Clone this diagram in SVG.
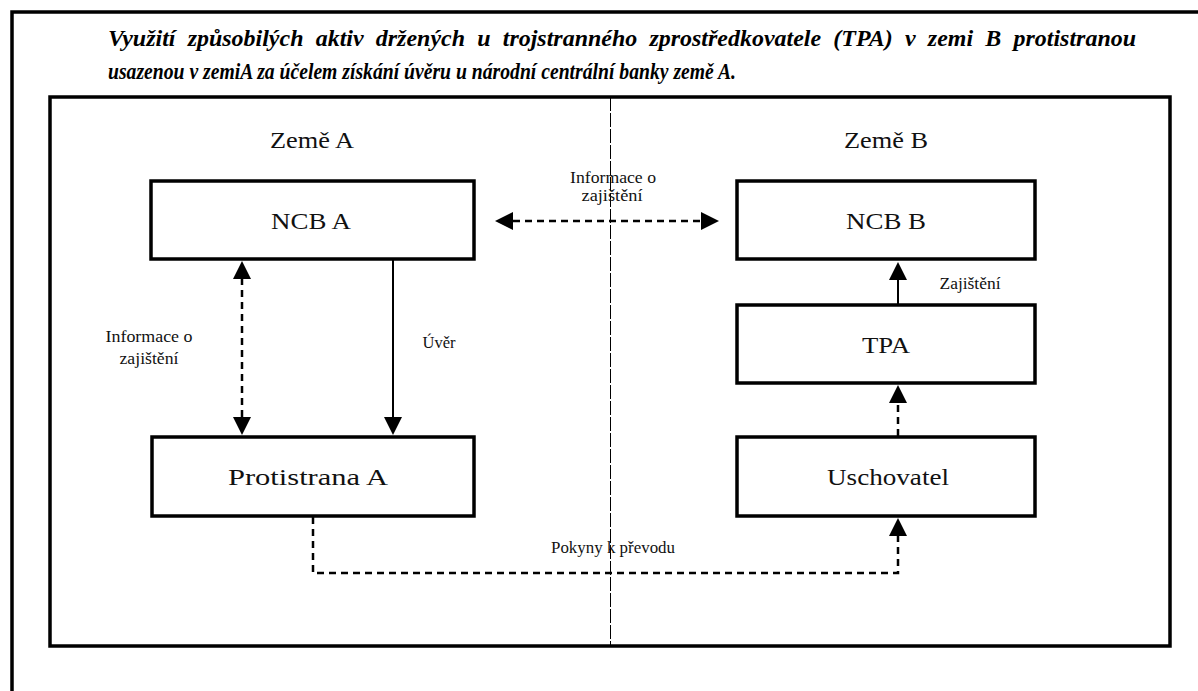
<svg xmlns="http://www.w3.org/2000/svg" width="1198" height="691" viewBox="0 0 1198 691">
<defs>
<style>
.box{fill:#fff;stroke:#000;stroke-width:3.5}
.solid{fill:none;stroke:#000;stroke-width:2}
.dash{fill:none;stroke:#000;stroke-width:2.5;stroke-dasharray:7 5}
</style>
</defs>
<rect width="1198" height="691" fill="#fff"/>
<g id="frame">
<path d="M12,691 V12 H1198" fill="none" stroke="#000" stroke-width="3.5"/>
<rect x="50" y="97" width="1120" height="549" fill="none" stroke="#000" stroke-width="3.5"/>
<line x1="610.5" y1="97" x2="610.5" y2="646" stroke="#000" stroke-width="1" stroke-dasharray="14 2"/>
</g>
<g id="title" font-family="Liberation Serif, serif" font-size="23" font-weight="bold" font-style="italic" fill="#000">
<text x="108" y="46" textLength="1028" lengthAdjust="spacingAndGlyphs" word-spacing="6">Využití způsobilých aktiv držených u trojstranného zprostředkovatele (TPA) v zemi B protistranou</text>
<text x="108" y="79" textLength="628" lengthAdjust="spacingAndGlyphs">usazenou v zemiA za účelem získání úvěru u národní centrální banky země A.</text>
</g>
<g font-family="Liberation Serif, serif" font-size="24" fill="#111" text-anchor="middle" lengthAdjust="spacingAndGlyphs">
<g id="zeme-a"><text x="312" y="148" textLength="84" lengthAdjust="spacingAndGlyphs">Země A</text></g>
<g id="zeme-b"><text x="886" y="148" textLength="84" lengthAdjust="spacingAndGlyphs">Země B</text></g>
<g id="ncb-a"><rect class="box" x="151" y="181" width="323" height="78"/><text x="311" y="229" textLength="80" lengthAdjust="spacingAndGlyphs">NCB A</text></g>
<g id="ncb-b"><rect class="box" x="737" y="181" width="298" height="78"/><text x="886" y="229" textLength="80" lengthAdjust="spacingAndGlyphs">NCB B</text></g>
<g id="tpa"><rect class="box" x="737" y="305" width="298" height="78"/><text x="886" y="353" textLength="48" lengthAdjust="spacingAndGlyphs">TPA</text></g>
<g id="protistrana-a"><rect class="box" x="152" y="437" width="322" height="79"/><text x="308" y="485" textLength="160" lengthAdjust="spacingAndGlyphs">Protistrana A</text></g>
<g id="uschovatel"><rect class="box" x="737" y="437" width="298" height="79"/><text x="888" y="485" textLength="122" lengthAdjust="spacingAndGlyphs">Uschovatel</text></g>
</g>
<g id="connectors">
<line class="dash" x1="513" y1="221" x2="702" y2="221"/>
<path d="M495,221 L513,212 L513,230 z"/>
<path d="M719,221 L701,212 L701,230 z"/>
<line class="dash" x1="242" y1="278" x2="242" y2="419"/>
<path d="M242,261 L233,279 L251,279 z"/>
<path d="M242,435 L233,417 L251,417 z"/>
<line class="solid" x1="393" y1="259" x2="393" y2="419"/>
<path d="M393,435 L384,417 L402,417 z"/>
<line class="solid" x1="898" y1="305" x2="898" y2="279"/>
<path d="M898,262 L889,280 L907,280 z"/>
<line class="dash" x1="898" y1="436" x2="898" y2="402"/>
<path d="M898,385 L889,403 L907,403 z"/>
<path class="dash" d="M313,517 V573 H898 V536"/>
<path d="M898,518 L889,536 L907,536 z"/>
</g>
<g id="labels" font-family="Liberation Serif, serif" font-size="16" fill="#111" text-anchor="middle">
<text x="613" y="183" textLength="86" lengthAdjust="spacingAndGlyphs">Informace o</text>
<text x="612" y="201" textLength="61" lengthAdjust="spacingAndGlyphs">zajištění</text>
<text x="149" y="342" textLength="87" lengthAdjust="spacingAndGlyphs">Informace o</text>
<text x="149" y="364" textLength="59" lengthAdjust="spacingAndGlyphs">zajištění</text>
<text x="439" y="348" textLength="33" lengthAdjust="spacingAndGlyphs">Úvěr</text>
<text x="970" y="289" textLength="61" lengthAdjust="spacingAndGlyphs">Zajištění</text>
<text x="613" y="553" textLength="124" lengthAdjust="spacingAndGlyphs">Pokyny k převodu</text>
</g>
</svg>
